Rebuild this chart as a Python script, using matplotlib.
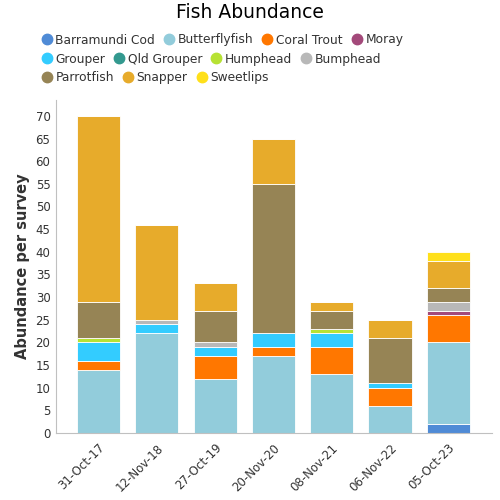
import matplotlib
matplotlib.use("Agg")
import matplotlib.pyplot as plt
from matplotlib.lines import Line2D
import numpy as np

surveys = ["31-Oct-17", "12-Nov-18", "27-Oct-19", "20-Nov-20", "08-Nov-21", "06-Nov-22", "05-Oct-23"]
species = ["Barramundi Cod", "Butterflyfish", "Coral Trout", "Moray", "Grouper", "Qld Grouper",
           "Humphead", "Bumphead", "Parrotfish", "Snapper", "Sweetlips"]
colors = ["#4f8bd6", "#92ccdb", "#ff7700", "#a3497a", "#33ccff", "#33998f",
          "#b7e234", "#b8b8b8", "#968455", "#e7ab2b", "#ffe01a"]

barramundi_cod = [0, 0, 0, 0, 0, 0, 2]
butterflyfish = [14, 22, 12, 17, 13, 6, 18]
coral_trout = [2, 0, 5, 2, 6, 4, 6]
moray = [0, 0, 0, 0, 0, 0, 1]
grouper = [4, 2, 2, 3, 3, 1, 0]
qld_grouper = [0, 0, 0, 0, 0, 0, 0]
humphead = [1, 0, 0, 0, 1, 0, 0]
bumphead = [0, 1, 1, 0, 0, 0, 2]
parrotfish = [8, 0, 7, 33, 4, 10, 3]
snapper = [41, 21, 6, 10, 2, 4, 6]
sweetlips = [0, 0, 0, 0, 0, 0, 2]

series = [barramundi_cod, butterflyfish, coral_trout, moray, grouper, qld_grouper,
          humphead, bumphead, parrotfish, snapper, sweetlips]

fig = plt.figure(figsize=(5, 5), dpi=100)
ax = fig.add_axes([0.112, 0.134, 0.872, 0.666])

x = np.arange(len(surveys))
bottom = np.zeros(len(surveys))
for name, vals, c in zip(species, series, colors):
    v = np.array(vals, dtype=float)
    ax.bar(x, v, bottom=bottom, width=0.74, color=c, edgecolor="white", linewidth=0.6, label=name)
    bottom += v

ax.set_xlim(-0.73, 6.75)
ax.set_ylim(0, 73.5)
ax.set_yticks(np.arange(0, 71, 5))
ax.set_xticks(x)
ax.set_xticklabels(surveys, rotation=45, ha="right", rotation_mode="anchor")
ax.tick_params(axis="both", length=0, labelsize=8.5, labelcolor="#333333", pad=4)
ax.tick_params(axis="x", pad=6)
for s in ["top", "right"]:
    ax.spines[s].set_visible(False)
ax.spines["left"].set_color("#c0c0c0")
ax.spines["bottom"].set_color("#c0c0c0")
ax.set_ylabel("Abundance per survey", fontsize=10.5, fontweight="bold", color="#333333")

fig.text(0.5, 0.974, "Fish Abundance", ha="center", va="center", fontsize=13.5, color="black")

rows = [[0, 1, 2, 3], [4, 5, 6, 7], [8, 9, 10]]
row_y = [0.920, 0.882, 0.845]
for r, yy in zip(rows, row_y):
    handles = [Line2D([], [], marker="o", linestyle="", markersize=7.5, color=colors[i]) for i in r]
    labels = [species[i] for i in r]
    leg = fig.legend(handles, labels, loc="center left", bbox_to_anchor=(0.084, yy), ncol=len(r),
                     frameon=False, fontsize=8.8, handletextpad=0.3, columnspacing=0.75,
                     borderpad=0, borderaxespad=0, handlelength=0.8)
    for t in leg.get_texts():
        t.set_color("#333333")

fig.savefig("out.png", dpi=100)
